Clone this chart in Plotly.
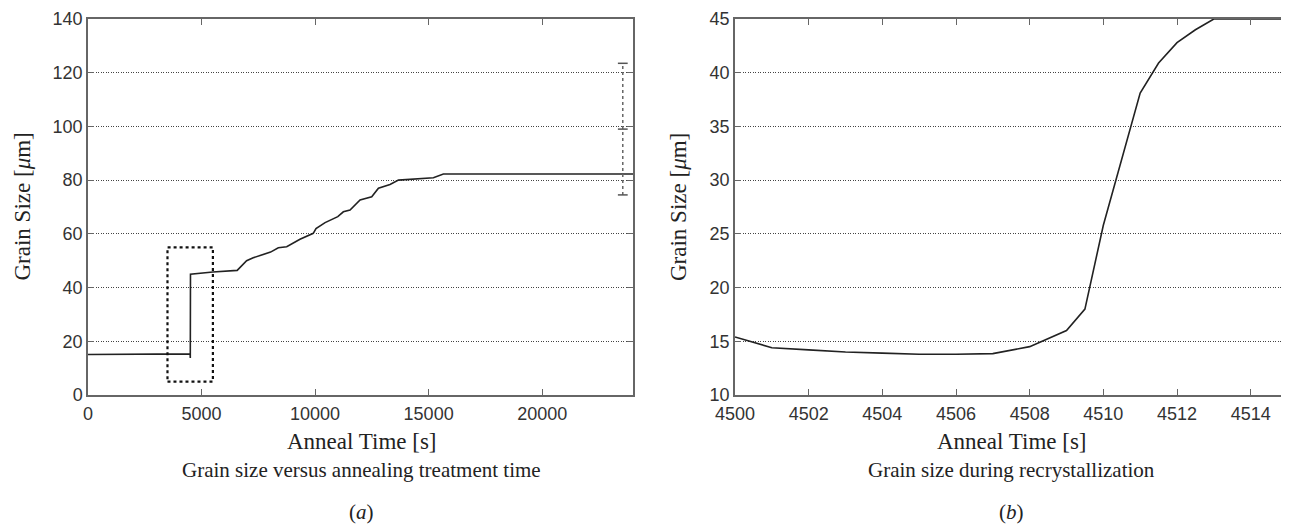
import plotly.graph_objects as go

# ---- data: panel (a) grain size vs anneal time ----
t_a = [0, 2200, 4497, 4505, 4507, 4513, 5500, 6570, 6985, 7275, 8040, 8380, 8750, 9335,
       9920, 10040, 10440, 11000, 11245, 11540, 11980, 12495, 12790, 13300, 13670,
       15210, 15650, 24000]
size_a = [15.1, 15.1, 15.3, 13.8, 13.8, 45.0, 45.8, 46.4, 50.0, 51.1, 53.2, 54.8, 55.2, 58.0,
          60.2, 62.0, 64.2, 66.4, 68.2, 68.9, 72.6, 73.8, 77.0, 78.4, 80.0,
          80.9, 82.3, 82.3]

# error bar (experimental measurement)
err_t = 23550
err_mean = 99.0
err_sd = 24.5

# zoom box (recrystallization window)
box_t = [3500, 5500]
box_size = [5, 55]

# ---- data: panel (b) grain size during recrystallization ----
t_b = [4500, 4501, 4502, 4503, 4504, 4505, 4506, 4507, 4508, 4509, 4509.5, 4510,
       4511, 4511.5, 4512, 4512.5, 4513, 4514, 4515]
size_b = [15.4, 14.4, 14.2, 14.0, 13.9, 13.8, 13.8, 13.85, 14.5, 16.0, 18.0, 25.8,
          38.1, 40.9, 42.8, 44.0, 45.0, 45.0, 45.0]

xticks_a = [0, 5000, 10000, 15000, 20000]
yticks_a = [0, 20, 40, 60, 80, 100, 120, 140]
xticks_b = [4500, 4502, 4504, 4506, 4508, 4510, 4512, 4514]
yticks_b = [10, 15, 20, 25, 30, 35, 40, 45]

OFF = 8  # page body margin
W, H = 1289 - OFF, 531 - OFF
LINE = "#222222"
FRAME = "#666666"
GRID = "#444444"
TICKFONT = dict(family="Liberation Sans, Arial, sans-serif", size=18, color="#333333")
SERIF = "Liberation Serif, Times New Roman, serif"


def px(x):
    return (x - OFF) / W


def py(y):
    return 1 - (y - OFF) / H


fig = go.Figure()

fig.add_trace(go.Scatter(x=t_a, y=size_a, mode="lines", line=dict(color=LINE, width=1.6),
                         xaxis="x", yaxis="y", showlegend=False))
fig.add_trace(go.Scatter(x=[box_t[0], box_t[1], box_t[1], box_t[0], box_t[0]],
                         y=[box_size[0], box_size[0], box_size[1], box_size[1], box_size[0]],
                         mode="lines", line=dict(color="#111111", width=2.2, dash="dot"),
                         xaxis="x", yaxis="y", showlegend=False))
fig.add_trace(go.Scatter(x=[err_t, err_t], y=[err_mean - err_sd, err_mean + err_sd],
                         mode="lines", line=dict(color="#666666", width=1.5, dash="dot"),
                         xaxis="x", yaxis="y", showlegend=False))
fig.add_trace(go.Scatter(x=[err_t, err_t, err_t], y=[err_mean - err_sd, err_mean, err_mean + err_sd],
                         mode="markers",
                         marker=dict(symbol="line-ew", size=7, line=dict(color="#555555", width=1.5)),
                         xaxis="x", yaxis="y", showlegend=False))

fig.add_trace(go.Scatter(x=t_b, y=size_b, mode="lines", line=dict(color=LINE, width=1.6),
                         xaxis="x2", yaxis="y2", showlegend=False))


def xax(domain, rng, ticks, anchor):
    return dict(domain=domain, range=rng, tickvals=ticks, ticktext=[str(v) for v in ticks],
                showgrid=False, zeroline=False, showline=True, linecolor=FRAME, linewidth=1.5,
                mirror="ticks", ticks="inside", ticklen=6, tickcolor=FRAME, tickwidth=1.2,
                tickfont=TICKFONT, anchor=anchor, automargin=False, ticklabelstandoff=2)


def yax(domain, rng, ticks, anchor):
    return dict(domain=domain, range=rng, tickvals=ticks, ticktext=[str(v) for v in ticks],
                showgrid=True, gridcolor=GRID, gridwidth=1, griddash="1px,1.5px",
                zeroline=False, showline=True, linecolor=FRAME, linewidth=1.5,
                mirror="ticks", ticks="inside", ticklen=6, tickcolor=FRAME, tickwidth=1.2,
                tickfont=TICKFONT, anchor=anchor, automargin=False)


fig.update_layout(
    width=W, height=H, margin=dict(l=0, r=0, t=0, b=0),
    paper_bgcolor="white", plot_bgcolor="white",
    xaxis=xax([px(88), px(633)], [0, 24000], xticks_a, "y"),
    yaxis=yax([py(395), py(19)], [0, 140], yticks_a, "x"),
    xaxis2=xax([px(735), min(1.0, px(1287.5))], [4500, 4515], xticks_b, "y2"),
    yaxis2=yax([py(395), py(19)], [10, 45], yticks_b, "x2"),
)


def ann(text, x, y, size=21, angle=0):
    fig.add_annotation(text=text, x=px(x), y=py(y), xref="paper", yref="paper",
                       showarrow=False, xanchor="center", yanchor="middle", textangle=angle,
                       font=dict(family=SERIF, size=size, color="#222222"))


for cx, cap, lab in [(362, "Grain size versus annealing treatment time", "(<i>a</i>)"),
                     (1011.5, "Grain size during recrystallization", "(<i>b</i>)")]:
    ann("Anneal Time [s]", cx, 441, size=23)
    ann(cap, cx, 470)
    ann(lab, cx, 512)

ann("Grain Size [<i>μ</i>m]", 22.5, 207, size=23, angle=-90)
ann("Grain Size [<i>μ</i>m]", 679, 207, size=23, angle=-90)

fig.write_html("out.html")
